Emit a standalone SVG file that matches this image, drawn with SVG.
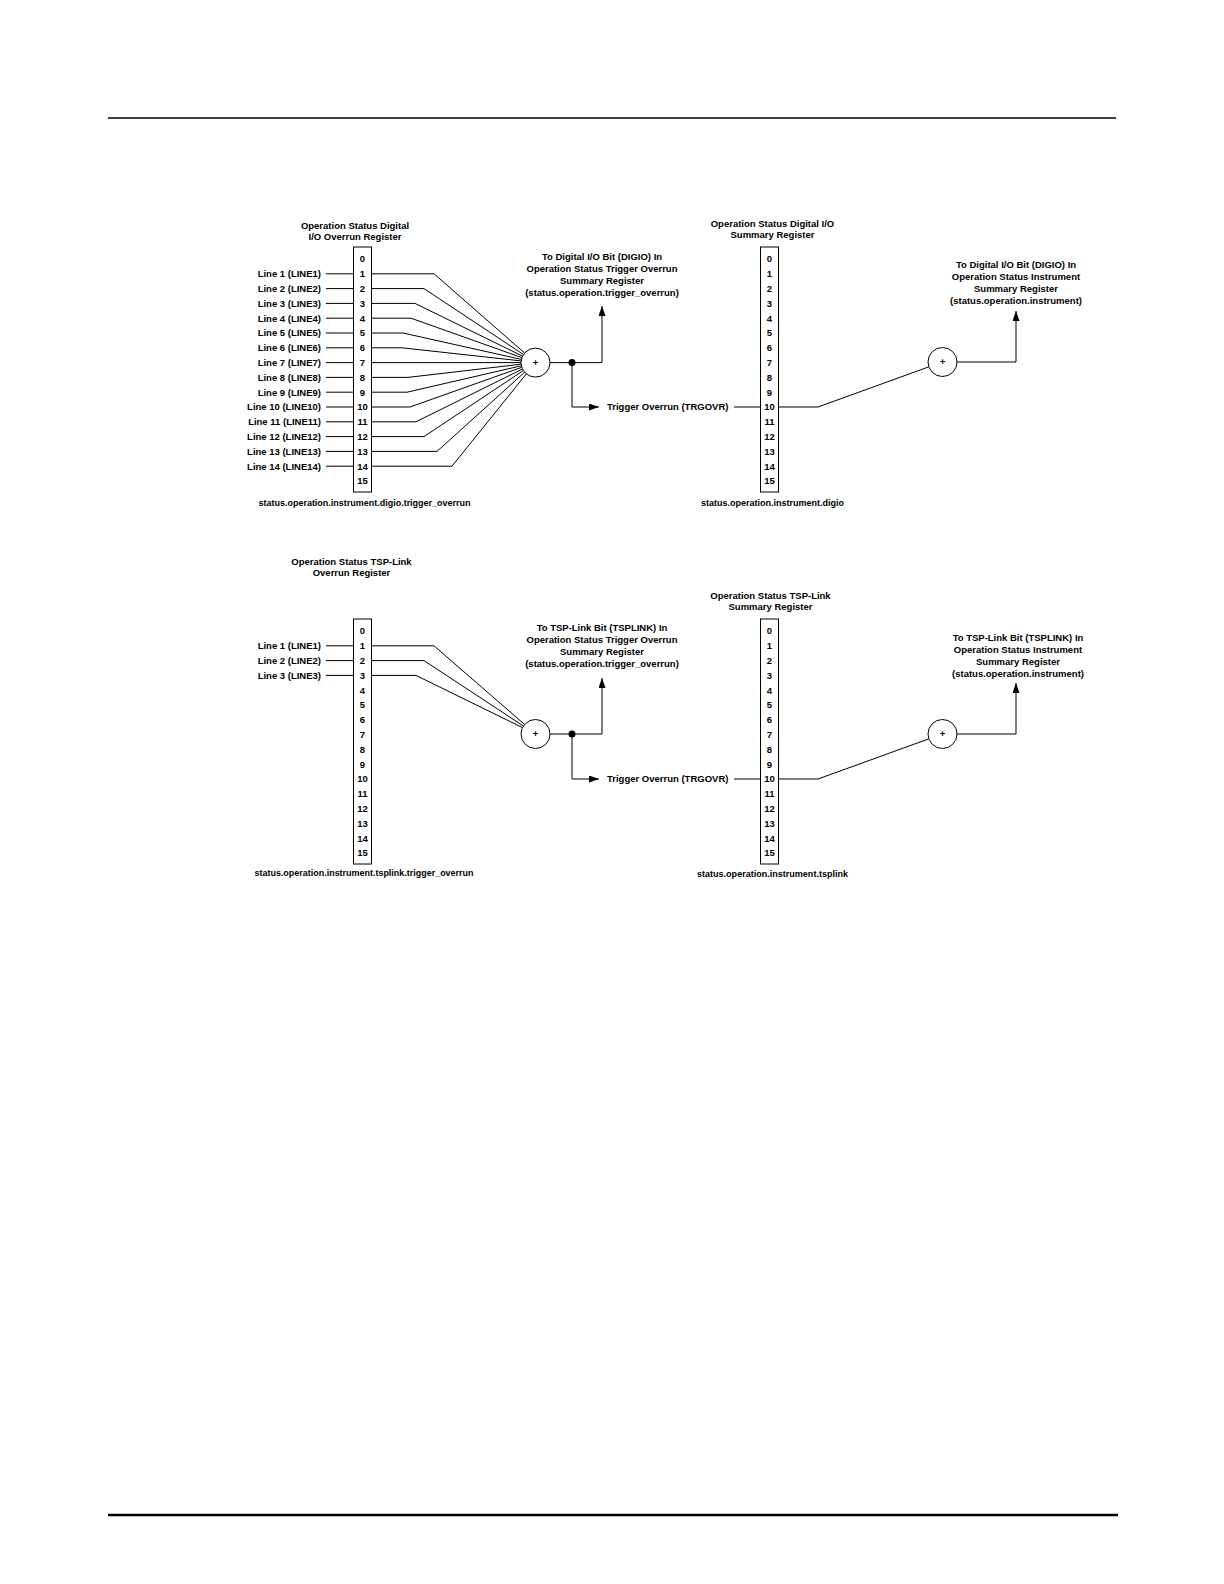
<svg xmlns="http://www.w3.org/2000/svg" width="1224" height="1584" viewBox="0 0 1224 1584">
<style>
text{font-family:"Liberation Sans",Arial,sans-serif;font-weight:bold;font-size:9.5px;fill:#000}
.c{text-anchor:middle}
.r{text-anchor:end}
.ln{fill:none;stroke:#000;stroke-width:1}
.box{fill:#fff;stroke:#000;stroke-width:1}
.sum{fill:#fff;stroke:#000;stroke-width:1}
.arr{fill:none;stroke:#000;stroke-width:1;marker-end:url(#ah)}
</style>
<defs>
<marker id="ah" markerUnits="userSpaceOnUse" markerWidth="11" markerHeight="8" refX="10" refY="3.5" orient="auto">
<path d="M0,0 L10,3.5 L0,7 Z" fill="#000"/>
</marker>
</defs>
<rect width="1224" height="1584" fill="#fff"/>
<line x1="108" y1="118" x2="1116" y2="118" stroke="#000" stroke-width="1.5"/>
<line x1="108" y1="1515" x2="1118" y2="1515" stroke="#000" stroke-width="2.5"/>

<g id="connectors">
<!-- Register A inputs -->
<path class="ln" d="M326,273.8H353.5M326,288.6H353.5M326,303.4H353.5M326,318.2H353.5M326,333H353.5M326,347.8H353.5M326,362.6H353.5M326,377.4H353.5M326,392.2H353.5M326,407H353.5M326,421.8H353.5M326,436.6H353.5M326,451.4H353.5M326,466.2H353.5"/>
<!-- Register A fan to OR A -->
<path class="ln" d="M371.5,273.8H434L524.6,353M371.5,288.6H424L523.4,354.5M371.5,303.4H415L522.5,356.1M371.5,318.2H411L521.8,357.6M371.5,333H403L521.3,359.4M371.5,347.8H402L521.1,360.9M371.5,362.6H521M371.5,377.4H408L521.1,364.2M371.5,392.2H407L521.4,365.8M371.5,407H410L521.8,367.3M371.5,421.8H416L522.5,369M371.5,436.6H424L523.4,370.5M371.5,451.4H437L524.7,372.2M371.5,466.2H452L526.4,373.8"/>
<path class="ln" d="M550,362.6H572"/>
<path class="arr" d="M572,362.6H602V306"/>
<path class="arr" d="M572,362.6V407H599"/>
<path class="ln" d="M734,407H760.5"/>
<path class="ln" d="M778.5,407H818L928.7,366.9"/>
<path class="arr" d="M957,362H1016V311"/>

<!-- Register C inputs -->
<path class="ln" d="M326,645.8H353.5M326,660.6H353.5M326,675.4H353.5"/>
<path class="ln" d="M371.5,645.8H434L524.6,724.5M371.5,660.6H424L523.4,726M371.5,675.4H416L522.5,727.6"/>
<path class="ln" d="M550,734H572"/>
<path class="arr" d="M572,734H602V678"/>
<path class="arr" d="M572,734V779H599"/>
<path class="ln" d="M734,779H760.5"/>
<path class="ln" d="M778.5,779H818L928.7,738.9"/>
<path class="arr" d="M957,734H1016V683"/>
<circle cx="572" cy="362.6" r="3.5" fill="#000"/>
<circle cx="572" cy="734" r="3.5" fill="#000"/>
</g>

<g id="regA">
<text class="c" x="355" y="228.6">Operation Status Digital</text>
<text class="c" x="355" y="239.7">I/O Overrun Register</text>
<rect class="box" x="353.5" y="247" width="18" height="245"/>
<text class="c" x="362.5" y="262.4">0</text>
<text class="c" x="362.5" y="277.2">1</text>
<text class="c" x="362.5" y="292">2</text>
<text class="c" x="362.5" y="306.8">3</text>
<text class="c" x="362.5" y="321.6">4</text>
<text class="c" x="362.5" y="336.4">5</text>
<text class="c" x="362.5" y="351.2">6</text>
<text class="c" x="362.5" y="366">7</text>
<text class="c" x="362.5" y="380.8">8</text>
<text class="c" x="362.5" y="395.6">9</text>
<text class="c" x="362.5" y="410.4">10</text>
<text class="c" x="362.5" y="425.2">11</text>
<text class="c" x="362.5" y="440">12</text>
<text class="c" x="362.5" y="454.8">13</text>
<text class="c" x="362.5" y="469.6">14</text>
<text class="c" x="362.5" y="484.4">15</text>
<text class="c" x="364.5" y="505.5" textLength="212" lengthAdjust="spacingAndGlyphs">status.operation.instrument.digio.trigger_overrun</text>
</g>

<g id="linesA">
<text class="r" x="321" y="277.2">Line 1 (LINE1)</text>
<text class="r" x="321" y="292">Line 2 (LINE2)</text>
<text class="r" x="321" y="306.8">Line 3 (LINE3)</text>
<text class="r" x="321" y="321.6">Line 4 (LINE4)</text>
<text class="r" x="321" y="336.4">Line 5 (LINE5)</text>
<text class="r" x="321" y="351.2">Line 6 (LINE6)</text>
<text class="r" x="321" y="366">Line 7 (LINE7)</text>
<text class="r" x="321" y="380.8">Line 8 (LINE8)</text>
<text class="r" x="321" y="395.6">Line 9 (LINE9)</text>
<text class="r" x="321" y="410.4">Line 10 (LINE10)</text>
<text class="r" x="321" y="425.2">Line 11 (LINE11)</text>
<text class="r" x="321" y="440">Line 12 (LINE12)</text>
<text class="r" x="321" y="454.8">Line 13 (LINE13)</text>
<text class="r" x="321" y="469.6">Line 14 (LINE14)</text>
</g>

<g id="orA">
<circle class="sum" cx="535.5" cy="362.6" r="14.5"/>
<text class="c" x="535.5" y="366">+</text>
</g>

<g id="outA">
<text class="c" x="602" y="259.5">To Digital I/O Bit (DIGIO) In</text>
<text class="c" x="602" y="271.5">Operation Status Trigger Overrun</text>
<text class="c" x="602" y="283.5">Summary Register</text>
<text class="c" x="602" y="295.5">(status.operation.trigger_overrun)</text>
</g>

<g id="trgA">
<text x="607" y="410.4">Trigger Overrun (TRGOVR)</text>
</g>

<g id="regB">
<text class="c" x="772.5" y="226.6">Operation Status Digital I/O</text>
<text class="c" x="772.5" y="237.7">Summary Register</text>
<rect class="box" x="760.5" y="247" width="18" height="245"/>
<text class="c" x="769.5" y="262.4">0</text>
<text class="c" x="769.5" y="277.2">1</text>
<text class="c" x="769.5" y="292">2</text>
<text class="c" x="769.5" y="306.8">3</text>
<text class="c" x="769.5" y="321.6">4</text>
<text class="c" x="769.5" y="336.4">5</text>
<text class="c" x="769.5" y="351.2">6</text>
<text class="c" x="769.5" y="366">7</text>
<text class="c" x="769.5" y="380.8">8</text>
<text class="c" x="769.5" y="395.6">9</text>
<text class="c" x="769.5" y="410.4">10</text>
<text class="c" x="769.5" y="425.2">11</text>
<text class="c" x="769.5" y="440">12</text>
<text class="c" x="769.5" y="454.8">13</text>
<text class="c" x="769.5" y="469.6">14</text>
<text class="c" x="769.5" y="484.4">15</text>
<text class="c" x="772.5" y="505.5" textLength="143" lengthAdjust="spacingAndGlyphs">status.operation.instrument.digio</text>
</g>

<g id="orB">
<circle class="sum" cx="942.5" cy="362" r="14.5"/>
<text class="c" x="942.5" y="365.4">+</text>
</g>

<g id="outB">
<text class="c" x="1016" y="268">To Digital I/O Bit (DIGIO) In</text>
<text class="c" x="1016" y="280">Operation Status Instrument</text>
<text class="c" x="1016" y="292">Summary Register</text>
<text class="c" x="1016" y="304">(status.operation.instrument)</text>
</g>

<g id="regC">
<text class="c" x="351.5" y="565">Operation Status TSP-Link</text>
<text class="c" x="351.5" y="576">Overrun Register</text>
<rect class="box" x="353.5" y="619" width="18" height="245"/>
<text class="c" x="362.5" y="634.4">0</text>
<text class="c" x="362.5" y="649.2">1</text>
<text class="c" x="362.5" y="664">2</text>
<text class="c" x="362.5" y="678.8">3</text>
<text class="c" x="362.5" y="693.6">4</text>
<text class="c" x="362.5" y="708.4">5</text>
<text class="c" x="362.5" y="723.2">6</text>
<text class="c" x="362.5" y="738">7</text>
<text class="c" x="362.5" y="752.8">8</text>
<text class="c" x="362.5" y="767.6">9</text>
<text class="c" x="362.5" y="782.4">10</text>
<text class="c" x="362.5" y="797.2">11</text>
<text class="c" x="362.5" y="812">12</text>
<text class="c" x="362.5" y="826.8">13</text>
<text class="c" x="362.5" y="841.6">14</text>
<text class="c" x="362.5" y="856.4">15</text>
<text class="c" x="364" y="876" textLength="219" lengthAdjust="spacingAndGlyphs">status.operation.instrument.tsplink.trigger_overrun</text>
</g>

<g id="linesC">
<text class="r" x="321" y="649.2">Line 1 (LINE1)</text>
<text class="r" x="321" y="664">Line 2 (LINE2)</text>
<text class="r" x="321" y="678.8">Line 3 (LINE3)</text>
</g>

<g id="orC">
<circle class="sum" cx="535.5" cy="734" r="14.5"/>
<text class="c" x="535.5" y="737.4">+</text>
</g>

<g id="outC">
<text class="c" x="602" y="630.5">To TSP-Link Bit (TSPLINK) In</text>
<text class="c" x="602" y="642.5">Operation Status Trigger Overrun</text>
<text class="c" x="602" y="654.5">Summary Register</text>
<text class="c" x="602" y="666.5">(status.operation.trigger_overrun)</text>
</g>

<g id="trgC">
<text x="607" y="782.4">Trigger Overrun (TRGOVR)</text>
</g>

<g id="regD">
<text class="c" x="770.5" y="599">Operation Status TSP-Link</text>
<text class="c" x="770.5" y="610">Summary Register</text>
<rect class="box" x="760.5" y="619" width="18" height="245"/>
<text class="c" x="769.5" y="634.4">0</text>
<text class="c" x="769.5" y="649.2">1</text>
<text class="c" x="769.5" y="664">2</text>
<text class="c" x="769.5" y="678.8">3</text>
<text class="c" x="769.5" y="693.6">4</text>
<text class="c" x="769.5" y="708.4">5</text>
<text class="c" x="769.5" y="723.2">6</text>
<text class="c" x="769.5" y="738">7</text>
<text class="c" x="769.5" y="752.8">8</text>
<text class="c" x="769.5" y="767.6">9</text>
<text class="c" x="769.5" y="782.4">10</text>
<text class="c" x="769.5" y="797.2">11</text>
<text class="c" x="769.5" y="812">12</text>
<text class="c" x="769.5" y="826.8">13</text>
<text class="c" x="769.5" y="841.6">14</text>
<text class="c" x="769.5" y="856.4">15</text>
<text class="c" x="772.5" y="877" textLength="151" lengthAdjust="spacingAndGlyphs">status.operation.instrument.tsplink</text>
</g>

<g id="orD">
<circle class="sum" cx="942.5" cy="734" r="14.5"/>
<text class="c" x="942.5" y="737.4">+</text>
</g>

<g id="outD">
<text class="c" x="1018" y="640.5">To TSP-Link Bit (TSPLINK) In</text>
<text class="c" x="1018" y="652.5">Operation Status Instrument</text>
<text class="c" x="1018" y="664.5">Summary Register</text>
<text class="c" x="1018" y="676.5">(status.operation.instrument)</text>
</g>
</svg>
